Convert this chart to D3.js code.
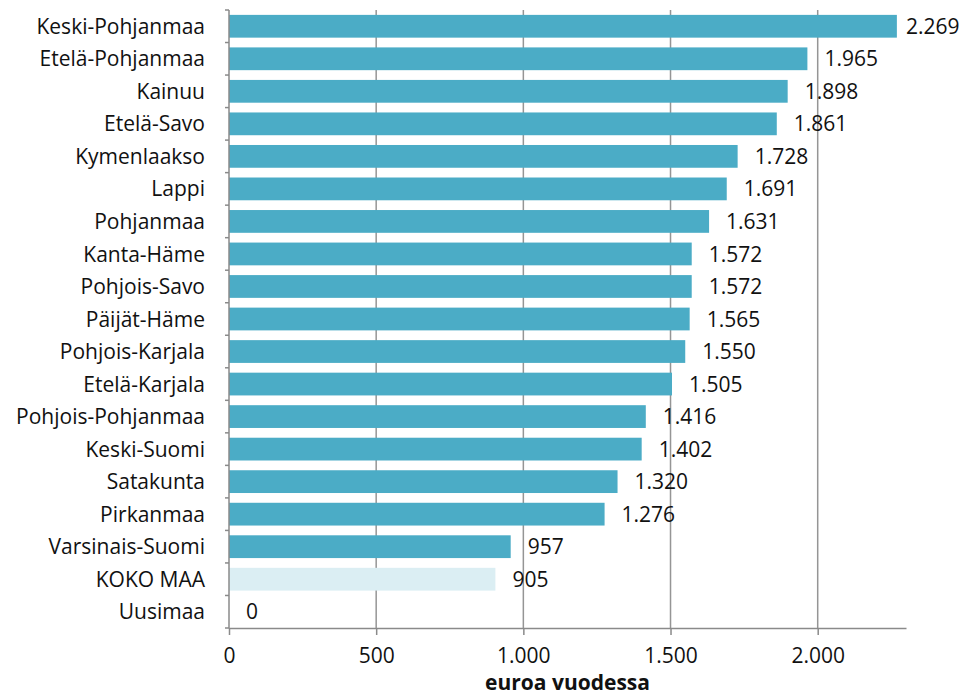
<!DOCTYPE html>
<html>
<head>
<meta charset="utf-8">
<script src="https://cdn.jsdelivr.net/npm/d3@7"></script>
<style>
body { margin: 0; background: #fff; }
text { font-family: "Open Sans", "Noto Sans", sans-serif; fill: #111; }
</style>
</head>
<body>
<svg id="chart" width="967" height="698"></svg>
<script>
var regions = ['Keski-Pohjanmaa', 'Etelä-Pohjanmaa', 'Kainuu', 'Etelä-Savo', 'Kymenlaakso', 'Lappi',
    'Pohjanmaa', 'Kanta-Häme', 'Pohjois-Savo', 'Päijät-Häme', 'Pohjois-Karjala', 'Etelä-Karjala',
    'Pohjois-Pohjanmaa', 'Keski-Suomi', 'Satakunta', 'Pirkanmaa', 'Varsinais-Suomi', 'KOKO MAA', 'Uusimaa']
var values = [2269, 1965, 1898, 1861, 1728, 1691, 1631, 1572, 1572, 1565, 1550, 1505, 1416, 1402, 1320, 1276, 957, 905, 0]
var xTicks = [0, 500, 1000, 1500, 2000]
var axisTitle = 'euroa vuodessa'

var svg = d3.select('#chart'),
    margin = {top: 10, right: 61, bottom: 70, left: 229},
    width = +svg.attr('width') - margin.left - margin.right,
    height = +svg.attr('height') - margin.top - margin.bottom,
    g = svg.append('g').attr('transform', 'translate(' + margin.left + ',' + margin.top + ')')

var fi = d3.formatLocale({decimal: ',', thousands: '.', grouping: [3], currency: ['', ' €']})
var fmt = fi.format(',d')

var x = d3.scaleLinear().domain([0, 2300]).range([0, width])
var y = d3.scaleBand().domain(regions).range([0, height]).paddingInner(0.3).paddingOuter(0.15)

// grid lines
g.selectAll('.grid')
    .data(xTicks.slice(1))
    .enter().append('line')
    .attr('x1', d => x(d)).attr('x2', d => x(d))
    .attr('y1', 0).attr('y2', height)
    .attr('stroke', '#959595').attr('stroke-width', 1.5)

g.selectAll('.bar')
    .data(regions)
    .enter().append('rect')
    .attr('x', x(0))
    .attr('y', d => y(d))
    .attr('height', y.bandwidth())
    .attr('width', (d, i) => x(values[i]) - x(0))
    .attr('fill', d => d === 'KOKO MAA' ? '#dbeef3' : '#4bacc6')

// value labels, pulled back inside the plot when they would run off it
g.selectAll('.val')
    .data(regions)
    .enter().append('text')
    .attr('x', (d, i) => Math.min(x(values[i]) + 17, width))
    .attr('y', d => y(d) + y.bandwidth() / 2)
    .attr('dy', '0.36em')
    .style('font-size', '21px')
    .text((d, i) => fmt(values[i]))

// y axis: ticks at band boundaries
var yAxis = g.append('g')
yAxis.append('line')
    .attr('x1', 0).attr('x2', 0).attr('y1', 0).attr('y2', height)
    .attr('stroke', '#8a8a8a').attr('stroke-width', 1.5)
yAxis.selectAll('.tk')
    .data(d3.range(regions.length + 1))
    .enter().append('line')
    .attr('x1', -4).attr('x2', 0)
    .attr('y1', i => i * height / regions.length)
    .attr('y2', i => i * height / regions.length)
    .attr('stroke', '#8a8a8a').attr('stroke-width', 1.5)
yAxis.selectAll('.lbl')
    .data(regions)
    .enter().append('text')
    .attr('x', -24)
    .attr('y', d => y(d) + y.bandwidth() / 2)
    .attr('dy', '0.36em')
    .attr('text-anchor', 'end')
    .style('font-size', '21px')
    .text(d => d)

// x axis
var xAxis = g.append('g')
    .attr('transform', 'translate(0,' + height + ')')
    .call(d3.axisBottom(x).tickValues(xTicks).tickFormat(fmt).tickSize(7).tickSizeOuter(0).tickPadding(13))
xAxis.select('.domain').attr('stroke', '#8a8a8a').attr('stroke-width', 1.5)
xAxis.selectAll('.tick line').attr('stroke', '#8a8a8a').attr('stroke-width', 1.5)
xAxis.selectAll('.tick text')
    .style('font-size', '21px')
    .style('font-family', '"Open Sans", "Noto Sans", sans-serif')
    .attr('fill', '#111')

g.append('text')
    .attr('x', x(1150))
    .attr('y', height + 62)
    .attr('text-anchor', 'middle')
    .style('font-size', '21px')
    .style('font-weight', 'bold')
    .text(axisTitle)
</script>
</body>
</html>
